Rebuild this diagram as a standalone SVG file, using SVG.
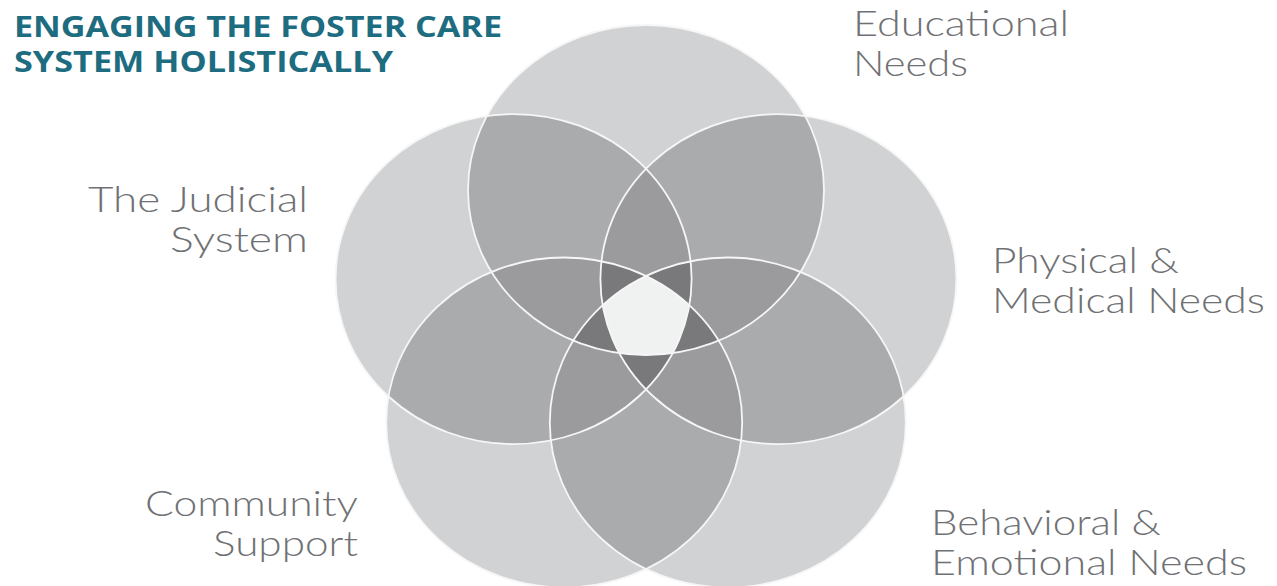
<svg xmlns="http://www.w3.org/2000/svg" xmlns:xlink="http://www.w3.org/1999/xlink" width="1277" height="586" viewBox="0 0 1277 586">
<style>
.l1{fill:#d1d2d4}
.l2{fill:#aaabad}
.l3{fill:#9b9b9d}
.l4{fill:#79797b}
.l5{fill:#f0f1f1}
.ol{fill:none;stroke:#f6f6f6;stroke-width:1.8}
.lbl{font-family:Lato,"Open Sans","Liberation Sans",sans-serif;font-weight:300;font-size:35px;fill:#707174}
.title{font-family:"Open Sans","Liberation Sans",sans-serif;font-weight:700;font-size:28px;fill:#1d6c7f}
</style>
<defs>
<ellipse id="eT" cx="646" cy="190" rx="178" ry="165"/>
<ellipse id="eUR" cx="778.4" cy="279.1" rx="178" ry="165"/>
<ellipse id="eBR" cx="727.8" cy="422.5" rx="178" ry="165"/>
<ellipse id="eBL" cx="564.2" cy="422.5" rx="178" ry="165"/>
<ellipse id="eUL" cx="513.6" cy="279.1" rx="178" ry="165"/>
<clipPath id="cT"><ellipse cx="646" cy="190" rx="178" ry="165"/></clipPath>
<clipPath id="cUR"><ellipse cx="778.4" cy="279.1" rx="178" ry="165"/></clipPath>
<clipPath id="cBR"><ellipse cx="727.8" cy="422.5" rx="178" ry="165"/></clipPath>
<clipPath id="cBL"><ellipse cx="564.2" cy="422.5" rx="178" ry="165"/></clipPath>
<clipPath id="cUL"><ellipse cx="513.6" cy="279.1" rx="178" ry="165"/></clipPath>
</defs>

<g id="title">
<text class="title" x="14" y="37" textLength="488" lengthAdjust="spacingAndGlyphs">ENGAGING THE FOSTER CARE</text>
<text class="title" x="14" y="72" textLength="379" lengthAdjust="spacingAndGlyphs">SYSTEM HOLISTICALLY</text>
</g>

<g id="node-educational">
<use xlink:href="#eT" class="l1"/>
<text class="lbl" x="853" y="36" textLength="216" lengthAdjust="spacingAndGlyphs">Educational</text>
<text class="lbl" x="853" y="76" textLength="115" lengthAdjust="spacingAndGlyphs">Needs</text>
</g>
<g id="node-physical">
<use xlink:href="#eUR" class="l1"/>
<text class="lbl" x="992" y="273" textLength="187" lengthAdjust="spacingAndGlyphs">Physical &amp;</text>
<text class="lbl" x="992" y="313" textLength="273" lengthAdjust="spacingAndGlyphs">Medical Needs</text>
</g>
<g id="node-behavioral">
<use xlink:href="#eBR" class="l1"/>
<text class="lbl" x="931" y="535" textLength="230" lengthAdjust="spacingAndGlyphs">Behavioral &amp;</text>
<text class="lbl" x="931" y="575" textLength="316" lengthAdjust="spacingAndGlyphs">Emotional Needs</text>
</g>
<g id="node-community">
<use xlink:href="#eBL" class="l1"/>
<text class="lbl" x="358" y="516" text-anchor="end" textLength="213" lengthAdjust="spacingAndGlyphs">Community</text>
<text class="lbl" x="358" y="556" text-anchor="end" textLength="145" lengthAdjust="spacingAndGlyphs">Support</text>
</g>
<g id="node-judicial">
<use xlink:href="#eUL" class="l1"/>
<text class="lbl" x="308" y="212" text-anchor="end" textLength="220" lengthAdjust="spacingAndGlyphs">The Judicial</text>
<text class="lbl" x="308" y="252" text-anchor="end" textLength="138" lengthAdjust="spacingAndGlyphs">System</text>
</g>

<g id="overlaps">
<g clip-path="url(#cT)"><use xlink:href="#eUR" class="l2"/></g>
<g clip-path="url(#cT)"><use xlink:href="#eBR" class="l2"/></g>
<g clip-path="url(#cT)"><use xlink:href="#eBL" class="l2"/></g>
<g clip-path="url(#cT)"><use xlink:href="#eUL" class="l2"/></g>
<g clip-path="url(#cUR)"><use xlink:href="#eBR" class="l2"/></g>
<g clip-path="url(#cUR)"><use xlink:href="#eBL" class="l2"/></g>
<g clip-path="url(#cUR)"><use xlink:href="#eUL" class="l2"/></g>
<g clip-path="url(#cBR)"><use xlink:href="#eBL" class="l2"/></g>
<g clip-path="url(#cBR)"><use xlink:href="#eUL" class="l2"/></g>
<g clip-path="url(#cBL)"><use xlink:href="#eUL" class="l2"/></g>
<g clip-path="url(#cT)"><g clip-path="url(#cUR)"><use xlink:href="#eBR" class="l3"/></g></g>
<g clip-path="url(#cT)"><g clip-path="url(#cUR)"><use xlink:href="#eBL" class="l3"/></g></g>
<g clip-path="url(#cT)"><g clip-path="url(#cUR)"><use xlink:href="#eUL" class="l3"/></g></g>
<g clip-path="url(#cT)"><g clip-path="url(#cBR)"><use xlink:href="#eBL" class="l3"/></g></g>
<g clip-path="url(#cT)"><g clip-path="url(#cBR)"><use xlink:href="#eUL" class="l3"/></g></g>
<g clip-path="url(#cT)"><g clip-path="url(#cBL)"><use xlink:href="#eUL" class="l3"/></g></g>
<g clip-path="url(#cUR)"><g clip-path="url(#cBR)"><use xlink:href="#eBL" class="l3"/></g></g>
<g clip-path="url(#cUR)"><g clip-path="url(#cBR)"><use xlink:href="#eUL" class="l3"/></g></g>
<g clip-path="url(#cUR)"><g clip-path="url(#cBL)"><use xlink:href="#eUL" class="l3"/></g></g>
<g clip-path="url(#cBR)"><g clip-path="url(#cBL)"><use xlink:href="#eUL" class="l3"/></g></g>
<g clip-path="url(#cT)"><g clip-path="url(#cUR)"><g clip-path="url(#cBR)"><use xlink:href="#eBL" class="l4"/></g></g></g>
<g clip-path="url(#cT)"><g clip-path="url(#cUR)"><g clip-path="url(#cBR)"><use xlink:href="#eUL" class="l4"/></g></g></g>
<g clip-path="url(#cT)"><g clip-path="url(#cUR)"><g clip-path="url(#cBL)"><use xlink:href="#eUL" class="l4"/></g></g></g>
<g clip-path="url(#cT)"><g clip-path="url(#cBR)"><g clip-path="url(#cBL)"><use xlink:href="#eUL" class="l4"/></g></g></g>
<g clip-path="url(#cUR)"><g clip-path="url(#cBR)"><g clip-path="url(#cBL)"><use xlink:href="#eUL" class="l4"/></g></g></g>
<g clip-path="url(#cT)"><g clip-path="url(#cUR)"><g clip-path="url(#cBR)"><g clip-path="url(#cBL)"><use xlink:href="#eUL" class="l5"/></g></g></g></g>
</g>

<g id="outlines">
<use xlink:href="#eT" class="ol"/>
<use xlink:href="#eUR" class="ol"/>
<use xlink:href="#eBR" class="ol"/>
<use xlink:href="#eBL" class="ol"/>
<use xlink:href="#eUL" class="ol"/>
</g>
</svg>
